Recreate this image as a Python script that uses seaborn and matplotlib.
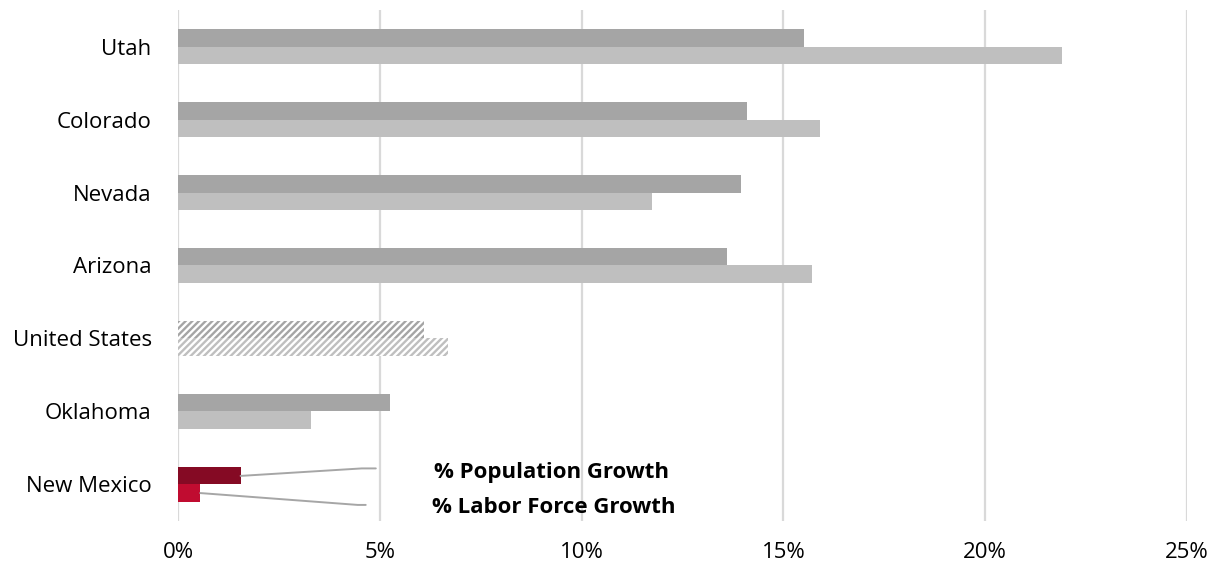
import matplotlib
matplotlib.use("Agg")
import matplotlib.pyplot as plt
import seaborn as sns
import pandas as pd
from matplotlib.ticker import FuncFormatter

states = ["Utah", "Colorado", "Nevada", "Arizona", "United States", "Oklahoma", "New Mexico"]
population_growth = [15.5, 14.1, 13.95, 13.6, 6.1, 5.25, 1.55]
labor_force_growth = [21.9, 15.9, 11.75, 15.7, 6.7, 3.3, 0.55]
measures = ["% Population Growth", "% Labor Force Growth"]
x_ticks = [0, 5, 10, 15, 20, 25]

df = pd.DataFrame({
    "State": states * 2,
    "Measure": [measures[0]] * len(states) + [measures[1]] * len(states),
    "Growth": population_growth + labor_force_growth,
})

sns.set_theme(style="white")
plt.rcParams["font.family"] = ["Open Sans", "DejaVu Sans"]
plt.rcParams["hatch.linewidth"] = 1.7

fig = plt.figure(figsize=(12.17, 5.69), dpi=100)
ax = fig.add_axes([0.1463, 0.0844, 0.8291, 0.898])

pop_gray, lab_gray = "#A5A5A5", "#BFBFBF"
sns.barplot(data=df, y="State", x="Growth", hue="Measure", order=states,
            hue_order=measures, palette=[pop_gray, lab_gray], orient="h",
            width=0.47, dodge=True, saturation=1, legend=False, ax=ax,
            linewidth=0)

# highlight colours: New Mexico in red, United States hatched
highlight = {0: "#850A24", 1: "#C00C30"}
for i, cont in enumerate(ax.containers):
    for j, bar in enumerate(cont):
        name = states[j]
        if name == "New Mexico":
            bar.set_facecolor(highlight[i])
        elif name == "United States":
            bar.set_facecolor("white")
            bar.set_edgecolor(pop_gray if i == 0 else lab_gray)
            bar.set_hatch("/////")
            bar.set_linewidth(0)

ax.set_xlim(0, 25)
ax.set_ylim(len(states) - 0.5, -0.5)
ax.set_xticks(x_ticks)
ax.xaxis.set_major_formatter(FuncFormatter(lambda v, _: f"{v:.0f}%"))
ax.grid(axis="x", color="#D9D9D9", linewidth=1.6)
ax.set_axisbelow(True)
for s in ax.spines.values():
    s.set_visible(False)
ax.set_xlabel("")
ax.set_ylabel("")
ax.tick_params(axis="x", length=0, pad=15, labelsize=16, colors="#000000")
ax.tick_params(axis="y", length=0, pad=19, labelsize=16, colors="#000000")

# leader lines from the New Mexico bars to their labels
nm = states.index("New Mexico")
off = 0.47 / 4
ax.plot([population_growth[nm], 4.55, 4.9], [nm - off, nm - 0.22, nm - 0.22],
        color="#A6A6A6", linewidth=1.4)
ax.plot([labor_force_growth[nm], 4.45, 4.65], [nm + off, nm + 0.28, nm + 0.28],
        color="#A6A6A6", linewidth=1.4)
ax.text(9.25, nm - 0.17, measures[0], ha="center", va="center",
        fontsize=16, fontweight="bold", color="#000000")
ax.text(9.3, nm + 0.31, measures[1], ha="center", va="center",
        fontsize=16, fontweight="bold", color="#000000")

fig.savefig("out.png", dpi=100)
